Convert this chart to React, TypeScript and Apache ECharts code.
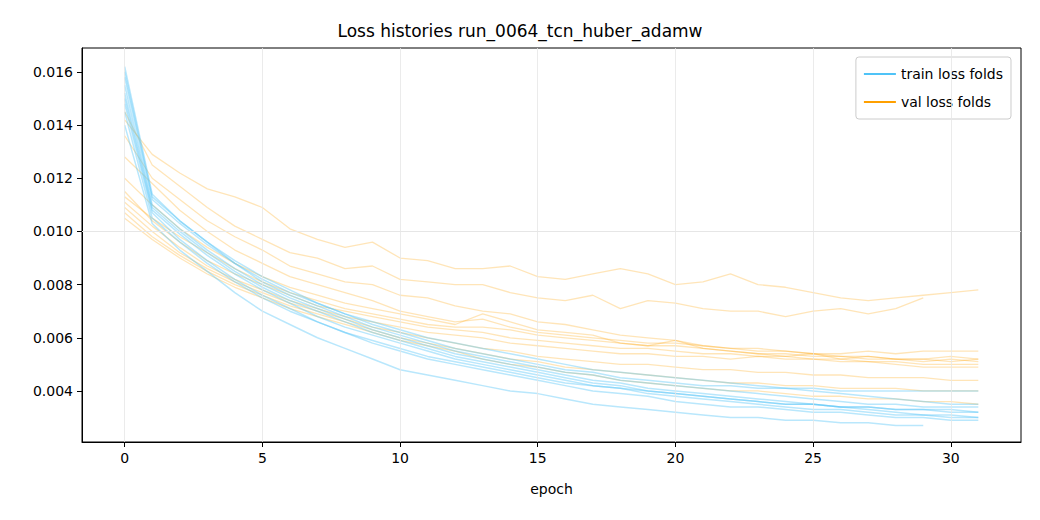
import { useEffect, useRef } from 'react';
import * as echarts from 'echarts';

const epochs = Array.from({ length: 32 }, (_, i) => i);
const xTicks = [0, 5, 10, 15, 20, 25, 30];
const yTicks = [0.004, 0.006, 0.008, 0.01, 0.012, 0.014, 0.016];

const trainFolds: number[][] = [
  [0.0162,0.0114,0.0104,0.0096,0.0088,0.0082,0.0077,0.0073,0.0069,0.0065,0.0062,0.0059,0.0056,0.0054,0.0052,0.0050,0.0048,0.0047,0.0045,0.0044,0.0043,0.0042,0.0042,0.0041,0.0041,0.0041,0.0040,0.0040,0.0040,0.0040,0.0040,0.0040],
  [0.0158,0.0112,0.0103,0.0095,0.0088,0.0081,0.0076,0.0072,0.0068,0.0064,0.0061,0.0058,0.0055,0.0053,0.0051,0.0049,0.0047,0.0046,0.0044,0.0043,0.0042,0.0041,0.0040,0.0039,0.0038,0.0037,0.0036,0.0035,0.0035,0.0034,0.0034,0.0034],
  [0.0155,0.0110,0.0101,0.0093,0.0086,0.0080,0.0075,0.0071,0.0067,0.0063,0.0060,0.0057,0.0054,0.0052,0.0050,0.0048,0.0046,0.0044,0.0043,0.0041,0.0040,0.0039,0.0038,0.0037,0.0036,0.0035,0.0034,0.0033,0.0032,0.0031,0.0031,0.0030],
  [0.0150,0.0108,0.0099,0.0091,0.0084,0.0078,0.0073,0.0068,0.0064,0.0061,0.0058,0.0055,0.0052,0.0050,0.0048,0.0046,0.0044,0.0042,0.0041,0.0039,0.0038,0.0037,0.0036,0.0035,0.0034,0.0033,0.0033,0.0032,0.0031,0.0031,0.0030,0.0030],
  [0.0145,0.0105,0.0096,0.0088,0.0081,0.0075,0.0070,0.0066,0.0062,0.0058,0.0055,0.0052,0.0050,0.0048,0.0046,0.0044,0.0042,0.0040,0.0039,0.0038,0.0036,0.0035,0.0034,0.0034,0.0033,0.0032,0.0032,0.0031,0.0030,0.0030,0.0029,0.0029],
  [0.0140,0.0103,0.0093,0.0085,0.0077,0.0070,0.0065,0.0060,0.0056,0.0052,0.0048,0.0046,0.0044,0.0042,0.0040,0.0039,0.0037,0.0035,0.0034,0.0033,0.0032,0.0031,0.0030,0.0030,0.0029,0.0029,0.0028,0.0028,0.0027,0.0027],
  [0.0160,0.0113,0.0104,0.0096,0.0089,0.0083,0.0078,0.0073,0.0069,0.0066,0.0063,0.0060,0.0058,0.0056,0.0054,0.0052,0.0050,0.0048,0.0047,0.0046,0.0045,0.0044,0.0043,0.0042,0.0041,0.0040,0.0039,0.0038,0.0037,0.0036,0.0035,0.0035],
  [0.0152,0.0109,0.0100,0.0092,0.0085,0.0079,0.0074,0.0070,0.0066,0.0062,0.0059,0.0056,0.0053,0.0051,0.0049,0.0047,0.0045,0.0043,0.0042,0.0040,0.0039,0.0038,0.0037,0.0036,0.0035,0.0035,0.0034,0.0034,0.0033,0.0033,0.0033,0.0032],
  [0.0148,0.0107,0.0097,0.0089,0.0082,0.0076,0.0071,0.0066,0.0062,0.0059,0.0056,0.0053,0.0051,0.0049,0.0047,0.0045,0.0043,0.0042,0.0041,0.0040,0.0039,0.0038,0.0037,0.0036,0.0035,0.0035,0.0034,0.0034,0.0033,0.0033,0.0032,0.0032],
];

const valFolds: number[][] = [
  [0.0142,0.0129,0.0122,0.0116,0.0113,0.0109,0.0101,0.0097,0.0094,0.0096,0.0090,0.0089,0.0086,0.0086,0.0087,0.0083,0.0082,0.0084,0.0086,0.0084,0.0080,0.0081,0.0084,0.0080,0.0079,0.0077,0.0075,0.0074,0.0075,0.0076,0.0077,0.0078],
  [0.0145,0.0125,0.0117,0.0109,0.0102,0.0097,0.0092,0.0090,0.0086,0.0087,0.0082,0.0081,0.0080,0.0080,0.0077,0.0075,0.0074,0.0076,0.0071,0.0074,0.0073,0.0071,0.0070,0.0070,0.0068,0.0070,0.0071,0.0069,0.0071,0.0075],
  [0.0128,0.0118,0.0108,0.0100,0.0093,0.0088,0.0083,0.0080,0.0077,0.0074,0.0070,0.0068,0.0066,0.0067,0.0064,0.0062,0.0061,0.0060,0.0059,0.0058,0.0058,0.0057,0.0056,0.0055,0.0055,0.0054,0.0054,0.0055,0.0054,0.0055,0.0055,0.0055],
  [0.0120,0.0110,0.0101,0.0094,0.0088,0.0083,0.0079,0.0076,0.0073,0.0071,0.0069,0.0067,0.0065,0.0069,0.0066,0.0063,0.0062,0.0061,0.0058,0.0057,0.0059,0.0056,0.0055,0.0054,0.0053,0.0054,0.0052,0.0053,0.0052,0.0051,0.0052,0.0051],
  [0.0115,0.0104,0.0096,0.0089,0.0084,0.0080,0.0076,0.0072,0.0070,0.0068,0.0066,0.0064,0.0063,0.0062,0.0060,0.0059,0.0058,0.0057,0.0056,0.0056,0.0055,0.0054,0.0054,0.0053,0.0053,0.0052,0.0052,0.0051,0.0051,0.0050,0.0050,0.0050],
  [0.0111,0.0102,0.0094,0.0087,0.0082,0.0078,0.0074,0.0071,0.0068,0.0066,0.0064,0.0062,0.0061,0.0060,0.0058,0.0057,0.0056,0.0055,0.0054,0.0054,0.0053,0.0053,0.0052,0.0053,0.0052,0.0052,0.0051,0.0051,0.0050,0.0049,0.0049,0.0049],
  [0.0109,0.0100,0.0092,0.0086,0.0081,0.0077,0.0073,0.0070,0.0067,0.0064,0.0062,0.0060,0.0058,0.0056,0.0055,0.0053,0.0052,0.0051,0.0050,0.0050,0.0049,0.0048,0.0048,0.0047,0.0047,0.0046,0.0046,0.0045,0.0045,0.0045,0.0044,0.0044],
  [0.0107,0.0098,0.0091,0.0085,0.0080,0.0076,0.0072,0.0069,0.0066,0.0063,0.0060,0.0058,0.0056,0.0054,0.0052,0.0051,0.0049,0.0048,0.0047,0.0046,0.0045,0.0044,0.0043,0.0043,0.0042,0.0042,0.0041,0.0041,0.0041,0.0040,0.0040,0.0040],
  [0.0105,0.0097,0.0090,0.0084,0.0079,0.0075,0.0071,0.0068,0.0065,0.0062,0.0059,0.0057,0.0055,0.0052,0.0050,0.0049,0.0047,0.0046,0.0044,0.0043,0.0042,0.0041,0.0040,0.0040,0.0039,0.0038,0.0038,0.0037,0.0037,0.0036,0.0036,0.0035],
  [0.0113,0.0105,0.0098,0.0092,0.0086,0.0081,0.0077,0.0074,0.0071,0.0069,0.0067,0.0065,0.0064,0.0064,0.0063,0.0061,0.0060,0.0059,0.0058,0.0057,0.0057,0.0056,0.0055,0.0054,0.0054,0.0053,0.0053,0.0052,0.0052,0.0052,0.0051,0.0052],
  [0.0136,0.0120,0.0112,0.0104,0.0098,0.0093,0.0087,0.0084,0.0081,0.0080,0.0076,0.0075,0.0072,0.0070,0.0069,0.0066,0.0065,0.0063,0.0061,0.0060,0.0059,0.0057,0.0056,0.0056,0.0055,0.0054,0.0053,0.0053,0.0052,0.0052,0.0053,0.0052],
];

const TRAIN = 'train loss folds';
const VAL = 'val loss folds';
const FONT = 'DejaVu Sans';

function foldSeries(folds: number[][], name: string, color: string, width: number) {
  return folds.map((vals) => ({
    type: 'line',
    name,
    data: vals.map((v, i) => [epochs[i], v]),
    showSymbol: false,
    silent: true,
    lineStyle: { color, width },
    itemStyle: { color },
  }));
}

export default function App() {
  const ref = useRef<HTMLDivElement>(null);

  useEffect(() => {
    if (!ref.current) return;
    const chart = echarts.init(ref.current, null, { renderer: 'svg' });
    const gridLine = { color: '#e6e6e6', width: 0.8, type: 'solid' };
    chart.setOption({
      animation: false,
      backgroundColor: '#fff',
      textStyle: { fontFamily: FONT },
      title: {
        text: 'Loss histories run_0064_tcn_huber_adamw',
        left: 'center',
        top: 9,
        textStyle: { fontFamily: FONT, fontSize: 17, fontWeight: 'normal', color: '#000' },
      },
      grid: { left: 74, right: 11, top: 40, bottom: 70, show: true, borderColor: '#000', borderWidth: 1 },
      legend: {
        right: 21,
        top: 49,
        orient: 'vertical',
        icon: 'rect',
        itemWidth: 32,
        itemHeight: 2,
        itemGap: 14,
        padding: [10, 8, 10, 8],
        borderColor: '#ccc',
        borderWidth: 1,
        borderRadius: 3,
        backgroundColor: '#fff',
        selectedMode: false,
        textStyle: { fontFamily: FONT, fontSize: 14, color: '#000' },
        data: [
          { name: TRAIN, itemStyle: { color: '#4fc3f7' } },
          { name: VAL, itemStyle: { color: '#ffa000' } },
        ],
      },
      xAxis: {
        type: 'value',
        min: -1.55,
        max: 32.55,
        name: 'epoch',
        nameLocation: 'middle',
        nameGap: 40,
        nameTextStyle: { fontFamily: FONT, fontSize: 14, color: '#000' },
        axisLine: { show: true, onZero: false, lineStyle: { color: '#000' } },
        axisTick: { show: true, customValues: xTicks, length: 5, lineStyle: { color: '#000' } },
        axisLabel: { customValues: xTicks, fontFamily: FONT, fontSize: 14, color: '#000', margin: 9 },
        splitLine: { show: false },
      },
      yAxis: {
        type: 'value',
        min: 0.00208,
        max: 0.0169,
        axisLine: { show: true, onZero: false, lineStyle: { color: '#000' } },
        axisTick: { show: true, customValues: yTicks, length: 5, lineStyle: { color: '#000' } },
        axisLabel: {
          customValues: yTicks,
          fontFamily: FONT,
          fontSize: 14,
          color: '#000',
          margin: 9,
          formatter: (v: number) => v.toFixed(3),
        },
        splitLine: { show: false },
      },
      series: [
        {
          type: 'line',
          data: [],
          silent: true,
          markLine: {
            silent: true,
            symbol: 'none',
            label: { show: false },
            lineStyle: gridLine,
            data: [...xTicks.map((x) => ({ xAxis: x })), ...yTicks.map((y) => ({ yAxis: y }))],
          },
        },
        ...foldSeries(valFolds, VAL, 'rgba(255,160,0,0.28)', 1.3),
        ...foldSeries(trainFolds, TRAIN, 'rgba(79,195,247,0.4)', 1.5),
      ],
    });
    return () => chart.dispose();
  }, []);

  return <div ref={ref} style={{ width: 1024, height: 504 }} />;
}
